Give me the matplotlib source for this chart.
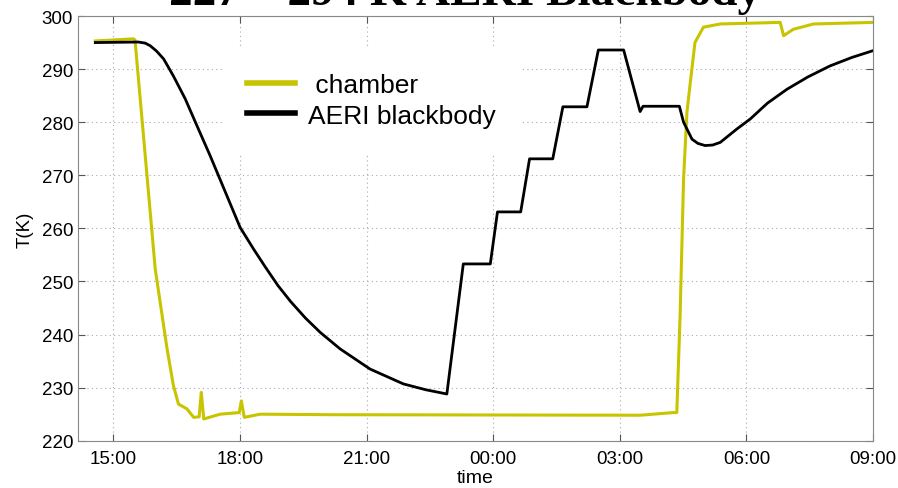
import matplotlib
matplotlib.use("Agg")
import matplotlib.pyplot as plt

# time in hours since midnight of day 1 (24+ = next day)
bb_hours = [14.57, 15.59, 15.75, 15.87, 16.02, 16.19, 16.42, 16.70, 16.98, 17.29,
            17.69, 18.00, 18.32, 18.60, 18.90, 19.20, 19.55, 19.90, 20.37, 21.08,
            21.87, 22.40, 22.90, 23.29, 23.93, 24.10, 24.65, 24.86, 25.41, 25.65,
            26.22, 26.49, 27.09, 27.48, 27.55, 28.41, 28.51, 28.71, 28.85, 29.02,
            29.20, 29.38, 29.77, 30.09, 30.50, 30.96, 31.45, 31.98, 32.50, 33.01]
bb_temp = [295.0, 295.1, 294.9, 294.4, 293.4, 291.9, 288.7, 284.4, 279.3, 273.7,
           266.1, 260.2, 256.1, 252.7, 249.2, 246.2, 243.1, 240.4, 237.3, 233.5,
           230.7, 229.6, 228.8, 253.3, 253.3, 263.1, 263.1, 273.1, 273.1, 282.9,
           282.9, 293.6, 293.6, 282.0, 283.0, 283.0, 280.0, 276.8, 276.0, 275.6,
           275.7, 276.2, 278.7, 280.6, 283.6, 286.2, 288.5, 290.6, 292.2, 293.5]

ch_hours = [14.57, 15.47, 15.51, 15.99, 16.27, 16.42, 16.54, 16.74, 16.90, 17.03,
            17.08, 17.14, 17.53, 17.98, 18.03, 18.10, 18.48, 20.14, 27.48, 28.27,
            28.35, 28.43, 28.51, 28.59, 28.67, 28.78, 28.98, 29.38, 30.80, 30.88,
            31.11, 31.59, 33.01]
ch_temp = [295.3, 295.7, 295.5, 252.3, 237.3, 230.4, 226.9, 226.0, 224.4, 224.5,
           229.1, 224.1, 225.0, 225.3, 227.5, 224.4, 225.0, 224.9, 224.8, 225.3,
           225.3, 244.2, 269.3, 281.9, 287.5, 295.0, 297.9, 298.5, 298.8, 296.3,
           297.5, 298.5, 298.8]

tick_hours = [15, 18, 21, 24, 27, 30, 33]
tick_labels = ["15:00", "18:00", "21:00", "00:00", "03:00", "06:00", "09:00"]

plt.rcParams["font.family"] = ["Liberation Sans", "DejaVu Sans"]

fig = plt.figure(figsize=(8.98, 4.89), dpi=100)
ax = fig.add_axes([0.0869, 0.0967, 0.8853, 0.8685])

ax.plot(ch_hours, ch_temp, color="#c8c400", linewidth=2.2, label=" chamber")
ax.plot(bb_hours, bb_temp, color="black", linewidth=2.0, label="AERI blackbody")

ax.set_xlim(14.16, 33.0)
ax.set_ylim(220, 300)
ax.set_xticks(tick_hours)
ax.set_xticklabels(tick_labels)
ax.set_yticks(range(220, 301, 10))

ax.grid(True, color="#aaaaaa", linestyle=(0, (1, 3)), linewidth=0.8)
for s in ax.spines.values():
    s.set_color("#888888")
ax.tick_params(direction="in", length=5, color="#555555", top=True, right=True,
               labelsize=13.5)
ax.tick_params(axis="x", pad=7)

ax.set_xlabel("time", fontsize=14, labelpad=1)
ax.set_ylabel("T(K)", fontsize=13.5, labelpad=6)

leg = ax.legend(loc="upper left", bbox_to_anchor=(0.181, 0.925), borderaxespad=0,
                fontsize=19, handlelength=1.8, handletextpad=0.5,
                borderpad=0.95, labelspacing=0.25, frameon=True, fancybox=False)
leg.get_frame().set_edgecolor("none")
leg.get_frame().set_facecolor("white")
leg.get_frame().set_alpha(1)
for line in leg.get_lines():
    line.set_linewidth(4)

# title is clipped by the top edge in the original as well
fig.text(0.518, 1 - 5 / 489, "227 – 294 K AERI Blackbody", ha="center",
         va="baseline", fontsize=34, fontweight="bold", family="Liberation Serif")

fig.savefig("out.png", dpi=100)
